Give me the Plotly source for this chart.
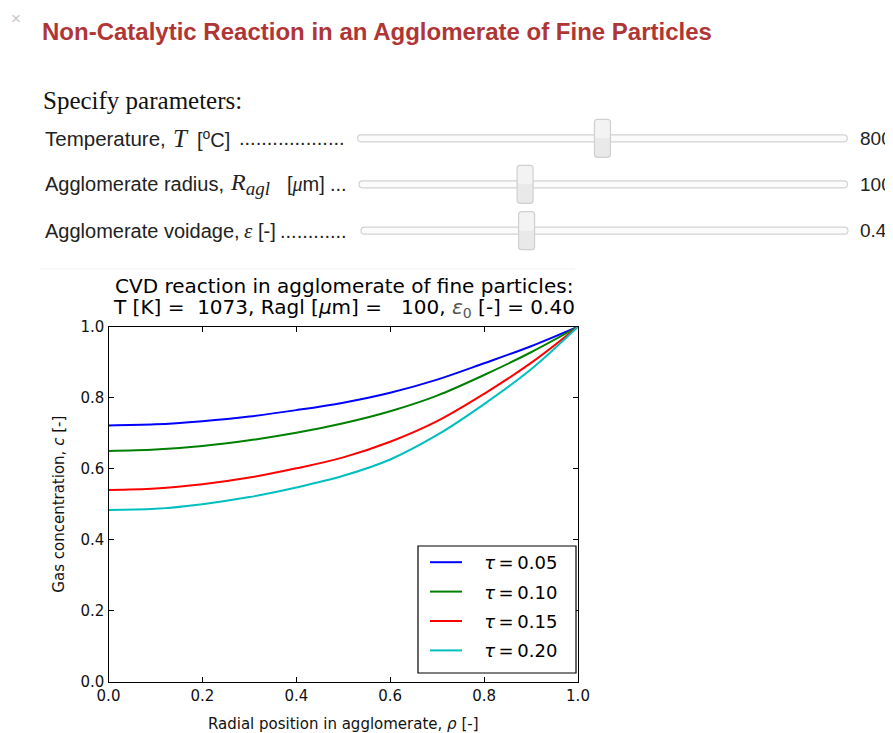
import plotly.graph_objects as go

W, H = 893, 733
OFF = 8  # page body margin in the browser

# ---------------- data ----------------
rho = [0.0, 0.1, 0.2, 0.3, 0.4, 0.5, 0.6, 0.7, 0.8, 0.9, 1.0]
c_tau005 = [0.722, 0.725, 0.734, 0.747, 0.765, 0.786, 0.814, 0.851, 0.897, 0.945, 1.0]
c_tau010 = [0.650, 0.654, 0.664, 0.680, 0.701, 0.728, 0.762, 0.806, 0.864, 0.928, 1.0]
c_tau015 = [0.540, 0.544, 0.556, 0.575, 0.601, 0.632, 0.676, 0.734, 0.811, 0.898, 1.0]
c_tau020 = [0.484, 0.487, 0.500, 0.520, 0.547, 0.580, 0.626, 0.695, 0.782, 0.880, 1.0]
series_names = ["<i>τ</i>\u2009=\u20090.05", "<i>τ</i>\u2009=\u20090.10",
                "<i>τ</i>\u2009=\u20090.15", "<i>τ</i>\u2009=\u20090.20"]
series_values = [c_tau005, c_tau010, c_tau015, c_tau020]
series_colors = ["#0000ff", "#008000", "#ff0000", "#00bfbf"]
tick_vals = [0.0, 0.2, 0.4, 0.6, 0.8, 1.0]

slider_values = ["800", "100", "0.4"]
slider_pos = [0.50, 0.34, 0.34]   # handle position along track (fraction)

# ---------------- helpers (page pixel -> paper) ----------------
def X(x):
    return (x - OFF) / W

def Y(y):
    return 1 - (y - OFF) / H

def rrect(x0, y0, x1, y1, r):
    p = [
        f"M{X(x0 + r)},{Y(y0)}", f"L{X(x1 - r)},{Y(y0)}",
        f"Q{X(x1)},{Y(y0)} {X(x1)},{Y(y0 + r)}", f"L{X(x1)},{Y(y1 - r)}",
        f"Q{X(x1)},{Y(y1)} {X(x1 - r)},{Y(y1)}", f"L{X(x0 + r)},{Y(y1)}",
        f"Q{X(x0)},{Y(y1)} {X(x0)},{Y(y1 - r)}", f"L{X(x0)},{Y(y0 + r)}",
        f"Q{X(x0)},{Y(y0)} {X(x0 + r)},{Y(y0)}", "Z",
    ]
    return " ".join(p)

fig = go.Figure()

NBSP = "\u00a0"
for name, vals, col in zip(series_names, series_values, series_colors):
    fig.add_trace(go.Scatter(
        x=rho, y=vals, mode="lines", name=NBSP * 3 + name + NBSP * 2, legendgroup=name,
        line=dict(color=col, width=2, shape="spline", smoothing=1.0),
        hoverinfo="skip",
    ))

SANS = "Liberation Sans, Arial, sans-serif"
SERIF = "Liberation Serif, Times New Roman, serif"
MPL = "DejaVu Sans, sans-serif"

annotations = []
shapes = []

def ann(x, y, text, size, family, color="#222222", xanchor="left"):
    annotations.append(dict(x=X(x), y=Y(y), xref="paper", yref="paper", text=text,
                            showarrow=False, xanchor=xanchor, yanchor="middle",
                            font=dict(family=family, size=size, color=color)))

# close mark and page title
ann(16, 18, "×", 17, SANS, "#c8c8c8", "center")
ann(40, 32, "<b>Non-Catalytic Reaction in an Agglomerate of Fine Particles</b>", 24, SANS, "#b03636")
ann(41, 100, "Specify parameters:", 25, SERIF, "#111111")

# slider rows: label pieces placed where the reference shows them
rows = [
    [(43, "Temperature,", SANS, 20.5), (171, "<i>T</i>", SERIF, 25),
     (195, "[<sup>o</sup>C]", SANS, 20), (237, "." * 19, SANS, 20)],
    [(43, "Agglomerate radius,", SANS, 20),
     (228, "<i>R</i><sub><span style='font-size:19px'><i>agl</i></span></sub>", SERIF, 24),
     (285, "[<span style='font-family:Liberation Serif, serif'><i>μ</i></span>m]", SANS, 20),
     (328, "...", SANS, 20)],
    [(43, "Agglomerate voidage,", SANS, 20), (242, "<i>ε</i>", SERIF, 21),
     (256, "[-]", SANS, 20), (278, "." * 12, SANS, 20)],
]
row_y = [138.3, 184.3, 230.7]
track_x = [(357.6, 847.3), (359.0, 847.5), (361.0, 848.0)]

for pieces, yc, (tx0, tx1), val, pos in zip(rows, row_y, track_x, slider_values, slider_pos):
    for (px, txt, fam, sz) in pieces:
        ann(px, yc, txt, sz, fam, "#222222")
    # slider track
    shapes.append(dict(type="path", xref="paper", yref="paper",
                       path=rrect(tx0, yc - 3.5, tx1, yc + 3.5, 3.5),
                       fillcolor="#fbfbfb", line=dict(color="#d2d2d2", width=1.2)))
    # handle
    hc = tx0 + pos * (tx1 - tx0)
    shapes.append(dict(type="path", xref="paper", yref="paper",
                       path=rrect(hc - 8, yc - 19, hc + 8, yc + 19, 3),
                       fillcolor="#e9e9e9", line=dict(color="#d0d0d0", width=1.2)))
    shapes.append(dict(type="path", xref="paper", yref="paper",
                       path=rrect(hc - 7.2, yc - 18.2, hc + 7.2, yc, 2.5),
                       fillcolor="#f3f3f3", line=dict(width=0)))
    ann(858, yc, val, 19, SANS, "#222222")

# chart title (two lines)
ann(344, 286, "CVD reaction in agglomerate of fine particles:", 20, MPL, "#000000", "center")
ann(344, 308, "T [K] =" + NBSP * 2 + "1073, Ragl [<i>μ</i>m] =" + NBSP * 3
    + "100, <span style='color:#555'><i>ε</i><sub>0</sub></span> [-] = 0.40", 20, MPL, "#000000", "center")

# faint separator above output area
shapes.append(dict(type="line", xref="paper", yref="paper",
                   x0=X(40), x1=X(575), y0=Y(269), y1=Y(269),
                   line=dict(color="#f2f2f2", width=1)))

# legend frame (matplotlib style box)
shapes.append(dict(type="rect", xref="paper", yref="paper", layer="above",
                   x0=X(418), x1=X(576), y0=Y(546), y1=Y(673),
                   fillcolor="#ffffff", line=dict(color="#000000", width=1.2)))

x_dom = [X(108.5), X(578)]
y_dom = [Y(681.7), Y(326.7)]

axis_common = dict(
    range=[0, 1], tickvals=tick_vals, tickformat=".1f",
    ticks="inside", ticklen=5, tickwidth=1, tickcolor="#000000",
    showline=True, linecolor="#000000", linewidth=1.2, mirror="ticks",
    showgrid=False, zeroline=False, automargin=False,
    tickfont=dict(family=MPL, size=15, color="#111111"),
)

fig.update_layout(
    width=W, height=H,
    margin=dict(l=0, r=0, t=0, b=0),
    paper_bgcolor="#ffffff", plot_bgcolor="#ffffff",
    xaxis=dict(domain=x_dom, **axis_common,
               title=dict(text="Radial position in agglomerate, <i>ρ</i> [-]",
                          font=dict(family=MPL, size=15, color="#111111"), standoff=14)),
    yaxis=dict(domain=y_dom, **axis_common,
               title=dict(text="Gas concentration, <i>c</i> [-]",
                          font=dict(family=MPL, size=15, color="#111111"), standoff=12)),
    showlegend=True,
    legend=dict(x=X(425), y=Y(544), xanchor="left", yanchor="top",
                bgcolor="rgba(0,0,0,0)", borderwidth=0,
                font=dict(family=MPL, size=18, color="#000000"),
                traceorder="grouped", tracegroupgap=3, itemwidth=32),
    annotations=annotations,
    shapes=shapes,
)

fig.write_html("out.html")
